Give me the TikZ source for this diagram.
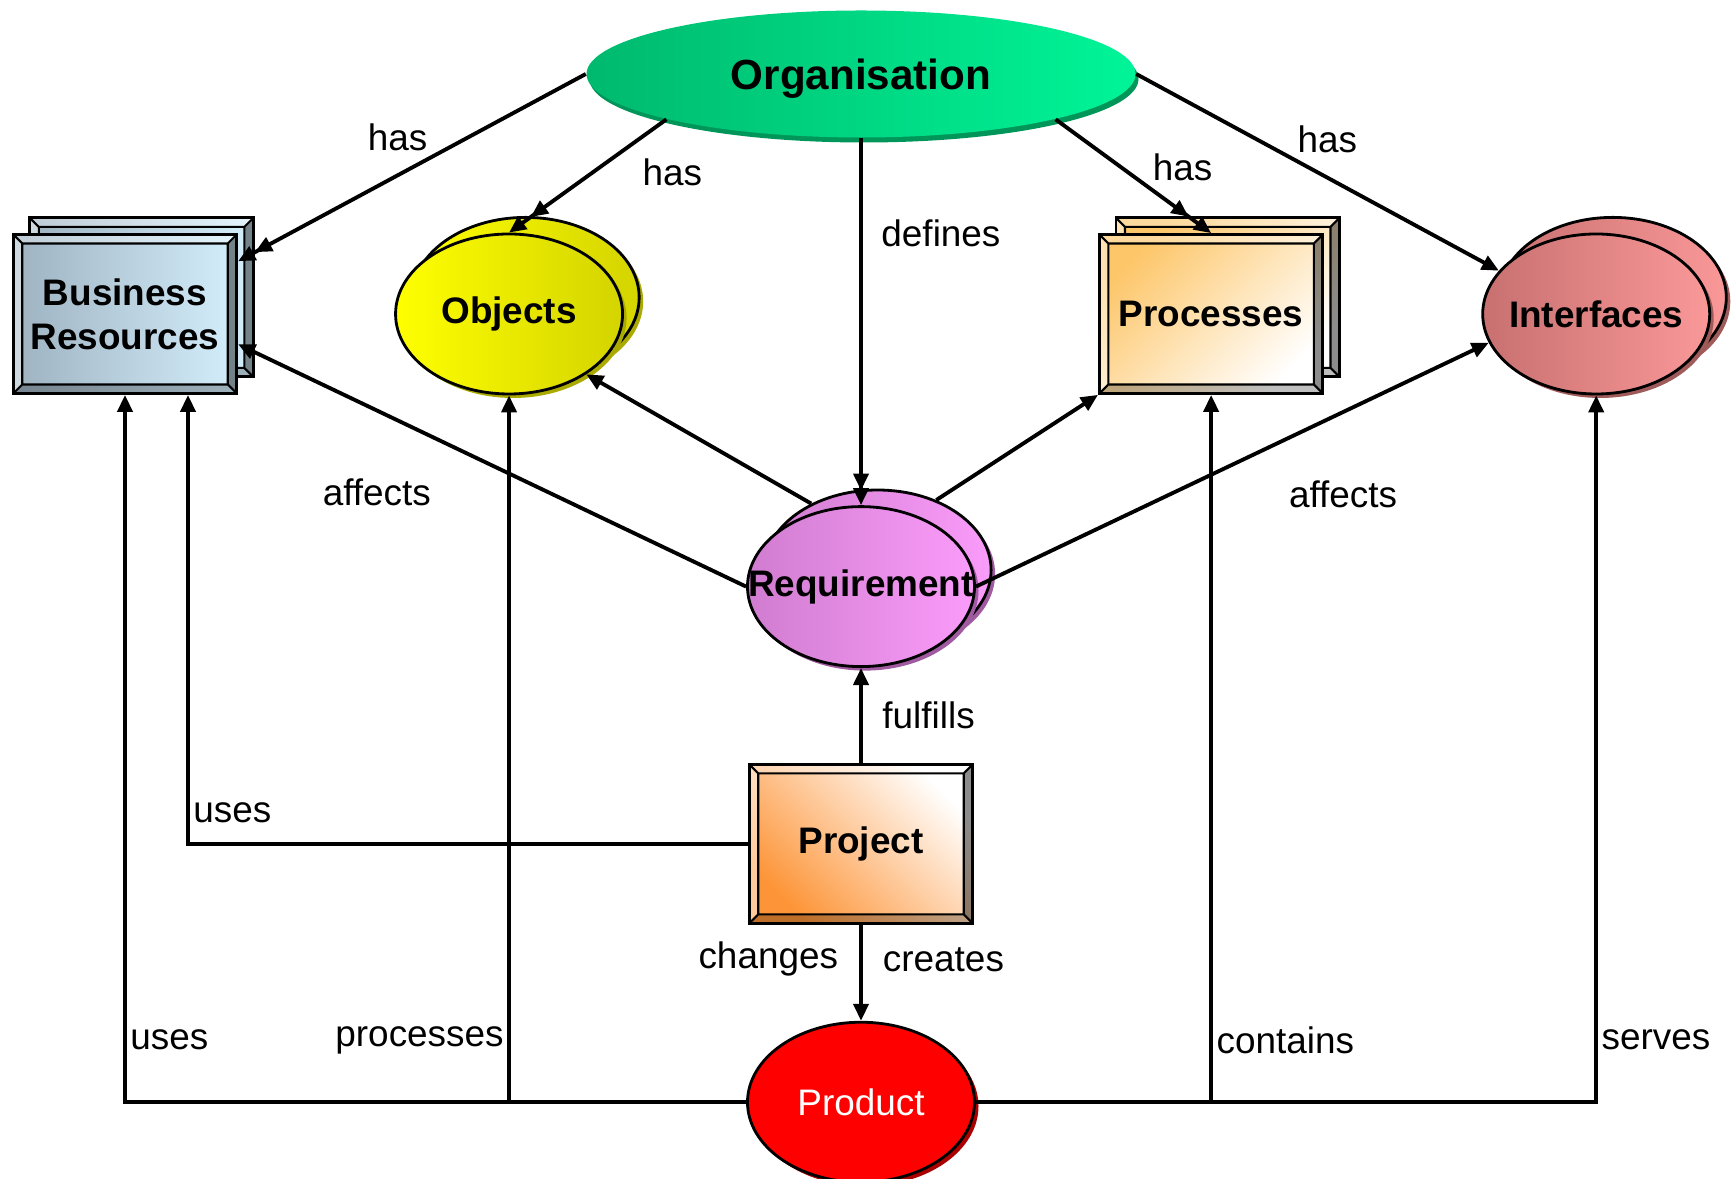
\documentclass[tikz,border=0pt]{standalone}
\usepackage{fontspec}
\setmainfont{Liberation Sans}
\usetikzlibrary{arrows.meta,positioning,calc,shapes,shadows,backgrounds,decorations.markings}
\definecolor{orgL}{RGB}{0,185,110}
\definecolor{orgR}{RGB}{0,245,152}
\definecolor{orgD}{RGB}{0,150,90}
\definecolor{resL}{RGB}{158,178,192}
\definecolor{resR}{RGB}{212,238,252}
\definecolor{objL}{RGB}{255,255,0}
\definecolor{objR}{RGB}{212,212,0}
\definecolor{objD}{RGB}{170,170,0}
\definecolor{procL}{RGB}{253,198,105}
\definecolor{intfL}{RGB}{200,112,112}
\definecolor{intfR}{RGB}{250,152,152}
\definecolor{intfD}{RGB}{160,90,90}
\definecolor{reqL}{RGB}{208,124,208}
\definecolor{reqR}{RGB}{250,156,250}
\definecolor{reqD}{RGB}{160,90,160}
\definecolor{projL}{RGB}{253,148,55}
\definecolor{prodD}{RGB}{170,0,0}
\tikzset{
  bevelbox/.style={rectangle, draw, line width=.8pt, minimum width=22.35mm, minimum height=15.9mm,
    inner sep=1pt, align=center, font=\fontsize{10.5}{12.6}\selectfont\bfseries,
    path picture={
      \path (path picture bounding box.north west) coordinate (bA)
            (path picture bounding box.north east) coordinate (bB)
            (path picture bounding box.south east) coordinate (bC)
            (path picture bounding box.south west) coordinate (bD);
      \path ([shift={(.9mm,-.9mm)}]bA) coordinate (iA)
            ([shift={(-.9mm,-.9mm)}]bB) coordinate (iB)
            ([shift={(-.9mm,.9mm)}]bC) coordinate (iC)
            ([shift={(.9mm,.9mm)}]bD) coordinate (iD);
      \fill[white, opacity=.35] (bA) -- (bB) -- (iB) -- (iA) -- cycle;
      \fill[white, opacity=.5] (bA) -- (iA) -- (iD) -- (bD) -- cycle;
      \fill[black, opacity=.45] (bB) -- (bC) -- (iC) -- (iB) -- cycle;
      \fill[black, opacity=.25] (bD) -- (iD) -- (iC) -- (bC) -- cycle;
      \draw[line width=.6pt] (iA) rectangle (iC) (bA) -- (iA) (bB) -- (iB) (bC) -- (iC) (bD) -- (iD);
    }},
  blob/.style={ellipse, draw, line width=.8pt, minimum width=22.7mm, minimum height=16mm,
    inner sep=0pt, font=\fontsize{10.5}{12.6}\selectfont\bfseries,
    drop shadow={shadow xshift=.4mm, shadow yshift=-.4mm, fill=#1, opacity=1}},
  conn/.style={-{Triangle[length=1.7mm, width=1.5mm]}, line width=1.1pt},
  backtip/.style={postaction={decorate, decoration={markings,
    mark=at position #1 with {\arrow{Triangle[length=1.7mm, width=1.5mm]}}}}},
  lbl/.style={inner sep=1pt}
}
\begin{document}
\begin{tikzpicture}[font=\fontsize{10.5}{12.6}\selectfont]
  \useasboundingbox (0,0) rectangle (17.35,-11.79);
  % top
  \node[ellipse, minimum width=54.9mm, minimum height=12.7mm, inner sep=0pt, text depth=0pt,
        left color=orgL, right color=orgR,
        drop shadow={shadow xshift=.3mm, shadow yshift=-.5mm, fill=orgD, opacity=1},
        font=\fontsize{12}{14}\selectfont\bfseries] (org) at (8.61,-0.74) {Organisation};
  % second row
  \node[bevelbox, left color=resL, right color=resR] (res) at (1.25,-3.14) {Business\\Resources};
  \node[blob=objD, left color=objL, right color=objR, right=1.56cm of res] (obj) {\makebox[0pt]{Objects}};
  \node[bevelbox, top color=procL, bottom color=white, shading angle=45, right=4.74cm of obj] (proc) {Processes};
  \node[blob=intfD, left color=intfL, right color=intfR, right=1.57cm of proc] (intf) {\makebox[0pt]{Interfaces}};
  % middle column
  \node[blob=reqD, left color=reqL, right color=reqR, below=3.67cm of org] (req) {\makebox[0pt]{Requirement}};
  \node[bevelbox, top color=white, bottom color=projL, shading angle=-45, below=9.5mm of req] (proj) {Project};
  \node[blob=prodD, fill=red, text=white, font=\fontsize{10.5}{12.6}\selectfont, below=9.6mm of proj] (prod) {\makebox[0pt]{Product}};
  % stacked copies behind
  \begin{scope}[on background layer]
    \node[bevelbox, left color=resL, right color=resR] (resb) at ([shift={(1.66mm,1.66mm)}]res) {};
    \node[blob=objD, left color=objL, right color=objR] (objb) at ([shift={(1.66mm,1.66mm)}]obj) {};
    \node[bevelbox, top color=procL, bottom color=white, shading angle=45] (procb) at ([shift={(1.66mm,1.66mm)}]proc) {};
    \node[blob=intfD, left color=intfL, right color=intfR] (intfb) at ([shift={(1.66mm,1.66mm)}]intf) {};
    \node[blob=reqD, left color=reqL, right color=reqR] (reqb) at ([shift={(1.66mm,1.66mm)}]req) {};
  \end{scope}
  % organisation
  \draw[conn, backtip=.952] (org.west) -- node[lbl, pos=.44, above left] {has} (res.25);
  \draw[conn, backtip=.862] (org.south west) -- node[lbl, pos=.3, anchor=north west, xshift=1.8mm] {has} (obj.north);
  \draw[conn, backtip=.96] (org.south) -- node[lbl, pos=.26, right=1.5mm] {defines} (req.north);
  \draw[conn, backtip=.856] (org.south east) -- node[lbl, pos=.59, above right] {has} (proc.north);
  \draw[conn] (org.east) -- node[lbl, pos=.43, above right] {has} (intf.156);
  % requirement
  \draw[conn] (req.west) -- node[lbl, pos=.61, below left=3.5mm and 0mm] {affects} (res.345);
  \draw[conn] (reqb.135) -- (obj.322);
  \draw[conn] (reqb.50) -- (proc.south west);
  \draw[conn] (req.east) -- node[lbl, pos=.6, below right=3.5mm and 0mm] {affects} (intf.195);
  % project
  \draw[conn] (proj.north) -- node[lbl, right=1.6mm] {fulfills} (req.south);
  \draw[conn] (proj.west) -| node[lbl, pos=.535, right] {uses} ([xshift=6.3mm]res.south);
  \draw[conn] (proj.south) -- node[lbl, pos=.36, left=1.75mm] {changes}
      node[lbl, pos=.36, right=1.65mm] {creates} (prod.north);
  % product
  \draw[conn] (prod.west) -| node[lbl, pos=.544, right] {uses} (res.south);
  \draw[conn] (prod.west) -| node[lbl, pos=.544, left] {processes} (obj.south);
  \draw[conn] (prod.east) -| node[lbl, pos=.544, right] {contains} (proc.south);
  \draw[conn] (prod.east) -| node[lbl, pos=.544, right] {serves} (intf.south);
\end{tikzpicture}
\end{document}
